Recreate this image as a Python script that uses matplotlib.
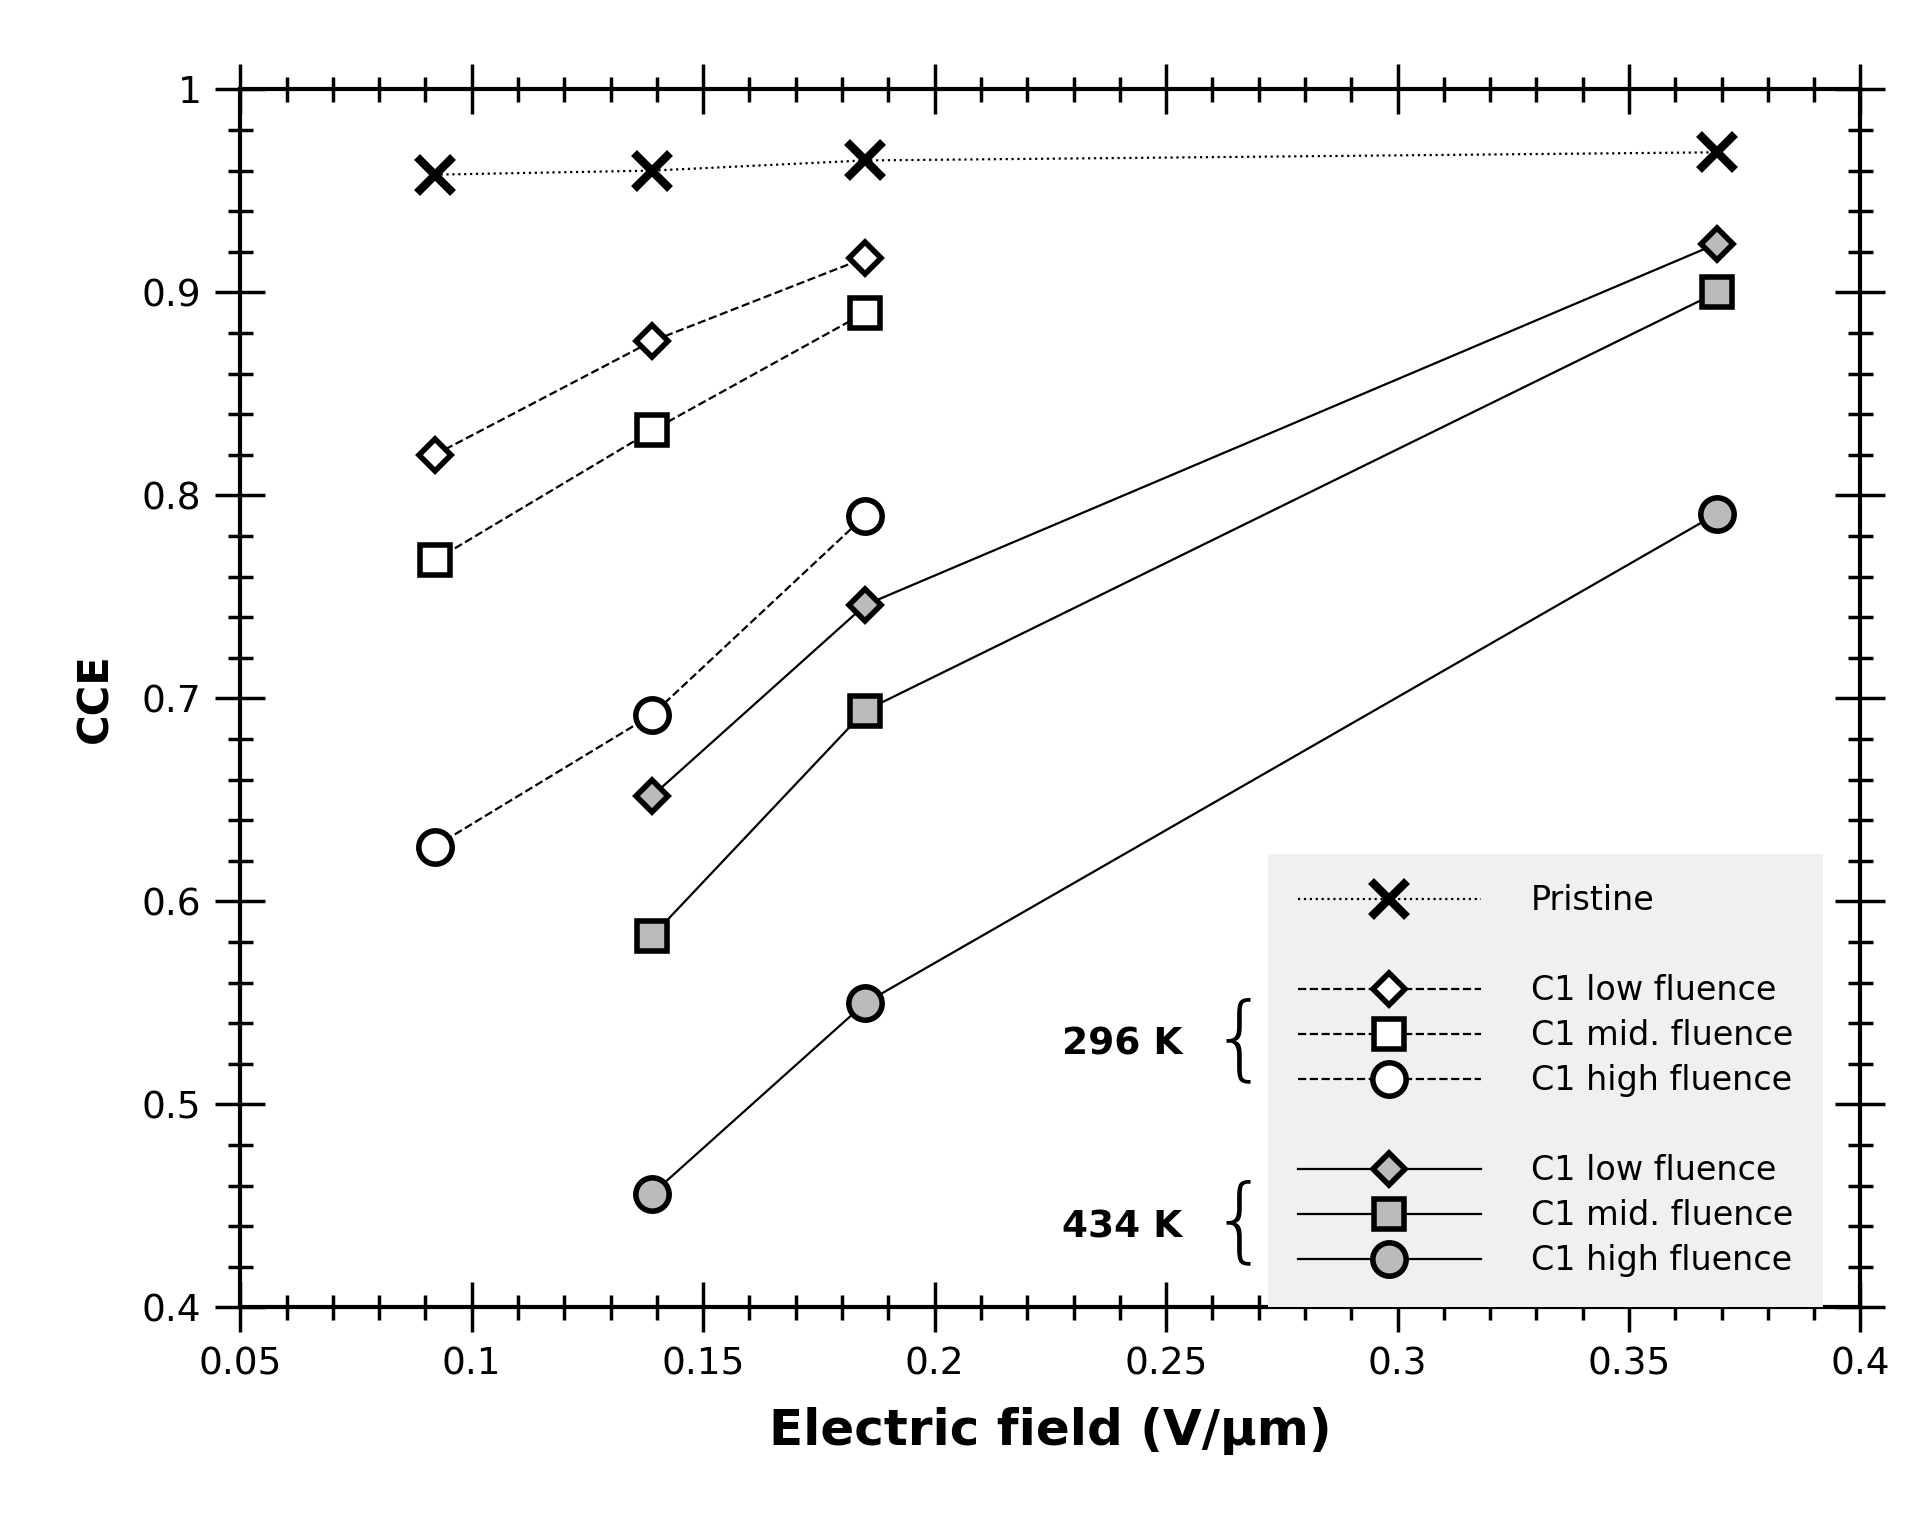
import matplotlib
matplotlib.use("Agg")
import matplotlib.pyplot as plt
from matplotlib.lines import Line2D
from matplotlib.ticker import MultipleLocator

x_pristine = [0.092, 0.139, 0.185, 0.369]
y_pristine = [0.958, 0.960, 0.965, 0.969]
x_296 = [0.092, 0.139, 0.185]
y296_low = [0.820, 0.876, 0.917]
y296_mid = [0.768, 0.832, 0.890]
y296_high = [0.627, 0.692, 0.790]
x_434 = [0.139, 0.185, 0.369]
y434_low = [0.652, 0.746, 0.924]
y434_mid = [0.583, 0.694, 0.900]
y434_high = [0.456, 0.550, 0.791]

plt.rcParams['font.family'] = ['DejaVu Sans']
fig = plt.figure(figsize=(19.22, 15.15), dpi=100)
ax = fig.add_axes([0.125, 0.137, 0.843, 0.804])

lw = 1.6
mew = 4
ax.plot(x_pristine, y_pristine, ':', color='k', lw=lw, marker='x', ms=26, mew=6)
for y, m, ms in [(y296_low, 'D', 16), (y296_mid, 's', 22), (y296_high, 'o', 24)]:
    ax.plot(x_296, y, '--', color='k', lw=lw, marker=m, ms=ms, mfc='white', mec='k', mew=mew)
for y, m, ms in [(y434_low, 'D', 16), (y434_mid, 's', 22), (y434_high, 'o', 24)]:
    ax.plot(x_434, y, '-', color='k', lw=lw, marker=m, ms=ms, mfc='#bbbbbb', mec='k', mew=mew)

ax.set_xlim(0.05, 0.4)
ax.set_ylim(0.4, 1.0)
ax.xaxis.set_minor_locator(MultipleLocator(0.01))
ax.yaxis.set_minor_locator(MultipleLocator(0.02))
ax.set_xticks([0.05, 0.1, 0.15, 0.2, 0.25, 0.3, 0.35, 0.4])
ax.set_xticklabels(['0.05', '0.1', '0.15', '0.2', '0.25', '0.3', '0.35', '0.4'])
ax.set_yticks([0.4, 0.5, 0.6, 0.7, 0.8, 0.9, 1.0])
ax.set_yticklabels(['0.4', '0.5', '0.6', '0.7', '0.8', '0.9', '1'])
ax.tick_params(which='both', direction='inout', top=True, right=True, labelsize=27, width=2.5, pad=10)
ax.tick_params(which='major', length=36)
ax.tick_params(which='minor', length=18)
for s in ax.spines.values():
    s.set_linewidth(3)
ax.set_xlabel('Electric field (V/µm)', fontsize=36, fontweight='bold', labelpad=18)
ax.set_ylabel('CCE', fontsize=30, fontweight='bold', labelpad=18)

def h(ls, m, ms, fc, mw):
    return Line2D([], [], ls=ls, color='k', lw=lw, marker=m, ms=ms, mfc=fc, mec='k', mew=mw)
blank = Line2D([], [], ls='none')
handles = [h(':', 'x', 26, 'k', 6), blank,
           h('--', 'D', 16, 'white', mew), h('--', 's', 22, 'white', mew), h('--', 'o', 24, 'white', mew), blank,
           h('-', 'D', 16, '#bbbbbb', mew), h('-', 's', 22, '#bbbbbb', mew), h('-', 'o', 24, '#bbbbbb', mew)]
labels = ['Pristine', '', 'C1 low fluence', 'C1 mid. fluence', 'C1 high fluence', '',
          'C1 low fluence', 'C1 mid. fluence', 'C1 high fluence']
leg = ax.legend(handles, labels, loc='lower right', bbox_to_anchor=(0.977, 0.0), borderaxespad=0,
                fontsize=24, frameon=True, fancybox=False, facecolor='#f0f0f0', edgecolor='none',
                framealpha=1, handlelength=5.5, handletextpad=1.5, labelspacing=0.36, borderpad=0.9)
ax.text(0.507, 0.216, '296 K', transform=ax.transAxes, fontsize=27, fontweight='bold', va='center')
ax.text(0.599, 0.218, '{', transform=ax.transAxes, fontsize=66, va='center', fontweight='light')
ax.text(0.507, 0.066, '434 K', transform=ax.transAxes, fontsize=27, fontweight='bold', va='center')
ax.text(0.599, 0.068, '{', transform=ax.transAxes, fontsize=66, va='center', fontweight='light')

fig.savefig('out.png', dpi=100)
